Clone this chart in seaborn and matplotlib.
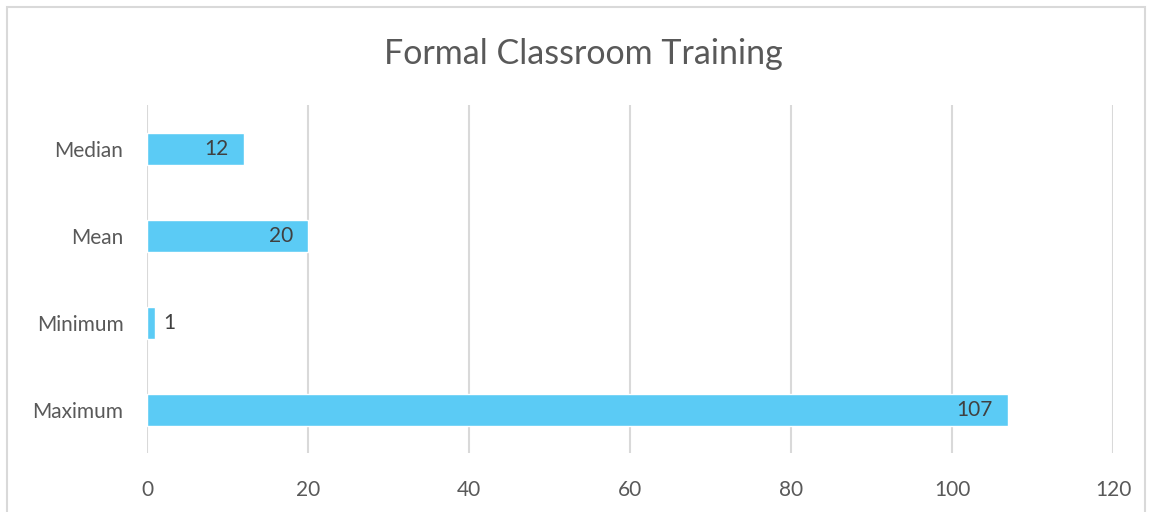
import matplotlib.pyplot as plt
import matplotlib.patches as mpatches
import seaborn as sns
import pandas as pd

stats = ['Median', 'Mean', 'Minimum', 'Maximum']
values = [12, 20, 1, 107]
ticks = [0, 20, 40, 60, 80, 100, 120]

df = pd.DataFrame({'stat': stats, 'value': values})

sns.set_style('white')
plt.rcParams['font.family'] = ['Lato', 'DejaVu Sans']

fig = plt.figure(figsize=(11.49, 5.12), dpi=100)
ax = fig.add_axes([0.128, 0.1143, 0.8407, 0.6797])

sns.barplot(data=df, x='value', y='stat', orient='h', color='#5BCBF5',
            saturation=1, width=0.36, ax=ax)

ax.set_xlim(0, 120)
ax.set_xticks(ticks)
ax.xaxis.grid(True, color='#D9D9D9', linewidth=1.5)
ax.set_axisbelow(True)
for s in ax.spines.values():
    s.set_visible(False)
ax.set_xlabel('')
ax.set_ylabel('')
ax.tick_params(axis='both', length=0, labelsize=15, labelcolor='#595959')
ax.tick_params(axis='x', pad=19)
ax.tick_params(axis='y', pad=17)

# data labels: inside end, except tiny bars which go outside
for i, v in enumerate(values):
    if v >= 5:
        ax.text(v - 1.9, i, str(v), ha='right', va='center', fontsize=15, color='#404040')
    else:
        ax.text(v + 1.0, i, str(v), ha='left', va='center', fontsize=15, color='#404040')

fig.text(0.508, 0.894, 'Formal Classroom Training', ha='center', va='center',
         fontsize=24.5, color='#595959')

# chart frame
fig.patches.append(mpatches.Rectangle((7 / 1149, -0.05), (1145 - 7) / 1149, 1.05 - 7 / 512,
                                      transform=fig.transFigure, fill=False,
                                      edgecolor='#D9D9D9', linewidth=1.5))

fig.savefig('out.png', dpi=100, facecolor='white')
